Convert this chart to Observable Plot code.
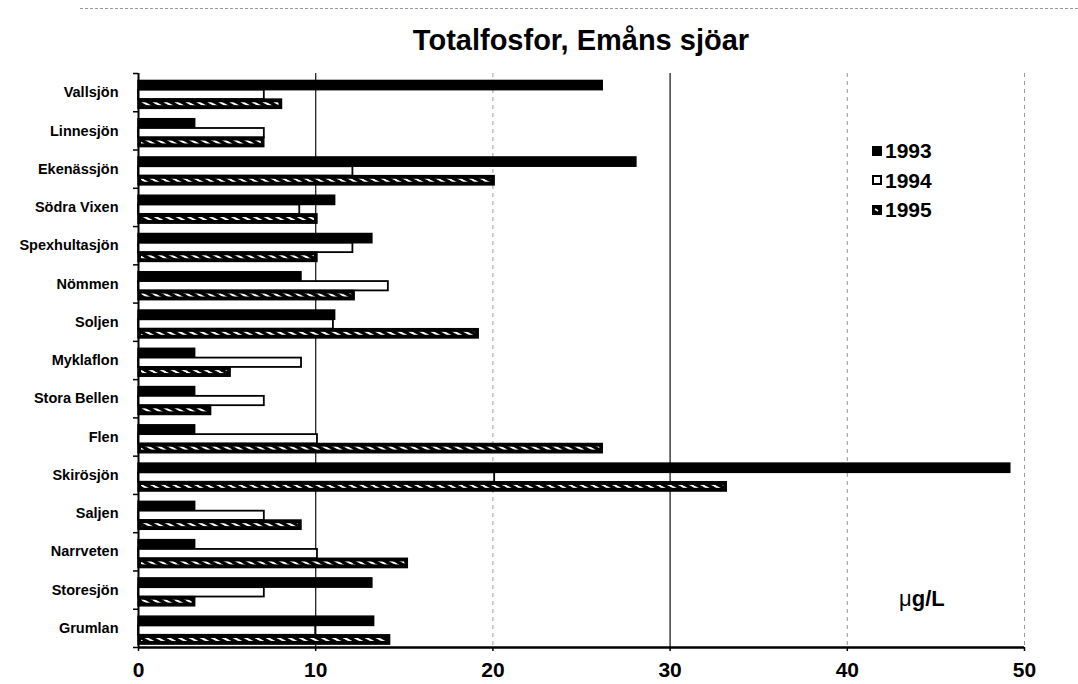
<!DOCTYPE html>
<html>
<head>
<meta charset="utf-8">
<script src="https://cdn.jsdelivr.net/npm/d3@7"></script>
<script src="https://cdn.jsdelivr.net/npm/@observablehq/plot@0.6"></script>
<style>
  body { margin: 0; background: #fff; font-family: "Liberation Sans", Arial, sans-serif; }
  #wrap { position: relative; width: 1078px; height: 684px; overflow: hidden; background: #fff; }
  #chart { position: absolute; left: 0; top: 0; }
  #chart svg text { font-weight: bold; fill: #000; }
  .topline { position: absolute; left: 80px; right: 0; top: 8px; border-top: 1px dashed #9a9a9a; }
  .title { position: absolute; left: 0; width: 1162px; top: 24px; text-align: center; font-weight: bold; font-size: 29px; color: #000; }
  .legend { position: absolute; left: 872px; top: 136px; font-weight: bold; font-size: 21px; line-height: 29.5px; color: #000; }
  .legend div { display: flex; align-items: center; }
  .legend svg { margin-right: 3px; }
  .unit { position: absolute; left: 899px; top: 586px; font-size: 22px; color: #000; }
  .unit b { font-weight: bold; }
</style>
</head>
<body>
<div id="wrap">
  <div id="chart"></div>
  <div class="topline"></div>
  <div class="title">Totalfosfor, Emåns sjöar</div>
  <div class="legend" id="legend"></div>
  <div class="unit">μ<b>g/L</b></div>
</div>
<script>
// ---- data ----
const lakes = ["Vallsjön", "Linnesjön", "Ekenässjön", "Södra Vixen", "Spexhultasjön", "Nömmen", "Soljen",
  "Myklaflon", "Stora Bellen", "Flen", "Skirösjön", "Saljen", "Narrveten", "Storesjön", "Grumlan"];
const years = ["1993", "1994", "1995"];
const v1993 = [26.2, 3.2, 28.1, 11.1, 13.2, 9.2, 11.1, 3.2, 3.2, 3.2, 49.2, 3.2, 3.2, 13.2, 13.3];
const v1994 = [7.1, 7.1, 12.1, 9.1, 12.1, 14.1, 11.0, 9.2, 7.1, 10.1, 20.1, 7.1, 10.1, 7.1, 10.0];
const v1995 = [8.1, 7.1, 20.1, 10.1, 10.1, 12.2, 19.2, 5.2, 4.1, 26.2, 33.2, 9.2, 15.2, 3.2, 14.2];
const xTicks = [0, 10, 20, 30, 40, 50];
const solidGrid = [10, 30];
const dottedGrid = [20, 40, 50];

const series = [v1993, v1994, v1995];
const sub = d3.scaleBand().domain(years).range([0, 1]).paddingInner(0).paddingOuter(0.55).align(0.72);
const rows = lakes.flatMap((lake, i) => years.map((year, j) => {
  const y1 = i + sub(year);
  return {lake, year, value: series[j][i], y1, y2: y1 + sub.bandwidth()};
}));
const byYear = (yr) => rows.filter(d => d.year === yr && d.value != null);

const svg = Plot.plot({
  width: 1078,
  height: 684,
  marginLeft: 138,
  marginRight: 54,
  marginTop: 73,
  marginBottom: 37,
  style: {fontFamily: "'Liberation Sans', Arial, sans-serif", background: "white", color: "black"},
  x: {domain: [0, 50], axis: null},
  y: {domain: [0, lakes.length], reverse: true, axis: null},
  marks: [
    Plot.ruleX(dottedGrid, {stroke: "#999", strokeWidth: 1, strokeDasharray: "4,4"}),
    Plot.ruleX(solidGrid, {stroke: "#222", strokeWidth: 1.3}),
    Plot.rect(byYear("1993"), {x1: () => 0, x2: "value", y1: "y1", y2: "y2", fill: "black", stroke: "black", strokeWidth: 1.4}),
    Plot.rect(byYear("1994"), {x1: () => 0, x2: "value", y1: "y1", y2: "y2", fill: "white", stroke: "black", strokeWidth: 1.8}),
    Plot.rect(byYear("1995"), {x1: () => 0, x2: "value", y1: "y1", y2: "y2", fill: "black", stroke: "black", strokeWidth: 1.4}),
    Plot.rect(byYear("1995"), {x1: () => 0, x2: "value", y1: "y1", y2: "y2", fill: "url(#hatch)", insetTop: 3.2, insetBottom: 3.2, insetLeft: 3, insetRight: 3}),
    Plot.ruleX([0], {stroke: "black", strokeWidth: 2}),
    Plot.ruleY([lakes.length], {stroke: "black", strokeWidth: 2.4}),
    Plot.axisY({ticks: d3.range(0, lakes.length + 1), tickSize: 5, tickFormat: () => "", label: null, strokeWidth: 1.5}),
    Plot.axisY({ticks: d3.range(0.5, lakes.length, 1), tickSize: 0, tickPadding: 20, tickFormat: t => lakes[Math.floor(t)], label: null, fontSize: 14.5, fontWeight: "bold"}),
    Plot.axisX({ticks: xTicks, tickSize: 4, tickPadding: 11, label: null, fontSize: 21, fontWeight: "bold", strokeWidth: 1.5})
  ]
});

// hatch pattern for 1995 bars
const defs = d3.select(svg).insert("defs", ":first-child");
const pat = defs.append("pattern").attr("id", "hatch").attr("patternUnits", "userSpaceOnUse")
  .attr("width", 11).attr("height", 6);
pat.append("rect").attr("width", 11).attr("height", 6).attr("fill", "black");
pat.append("path").attr("d", "M-1,-0.55 L12,6.55 M-12,-0.55 L1,6.55 M10,-0.55 L23,6.55")
  .attr("stroke", "white").attr("stroke-width", 2);

document.getElementById("chart").appendChild(svg);

// legend
const legend = d3.select("#legend");
years.forEach((yr, j) => {
  const row = legend.append("div");
  const s = row.append("svg").attr("width", 10).attr("height", 10);
  if (j === 0) s.append("rect").attr("x", 0.5).attr("y", 0.5).attr("width", 9).attr("height", 9).attr("fill", "black").attr("stroke", "black");
  if (j === 1) s.append("rect").attr("x", 1).attr("y", 1).attr("width", 8).attr("height", 8).attr("fill", "white").attr("stroke", "black").attr("stroke-width", 2);
  if (j === 2) {
    s.append("rect").attr("x", 0.5).attr("y", 0.5).attr("width", 9).attr("height", 9).attr("fill", "black").attr("stroke", "black");
    s.append("path").attr("d", "M3,4 L6,6").attr("stroke", "white").attr("stroke-width", 1.6);
  }
  row.append("span").text(yr);
});
</script>
</body>
</html>
